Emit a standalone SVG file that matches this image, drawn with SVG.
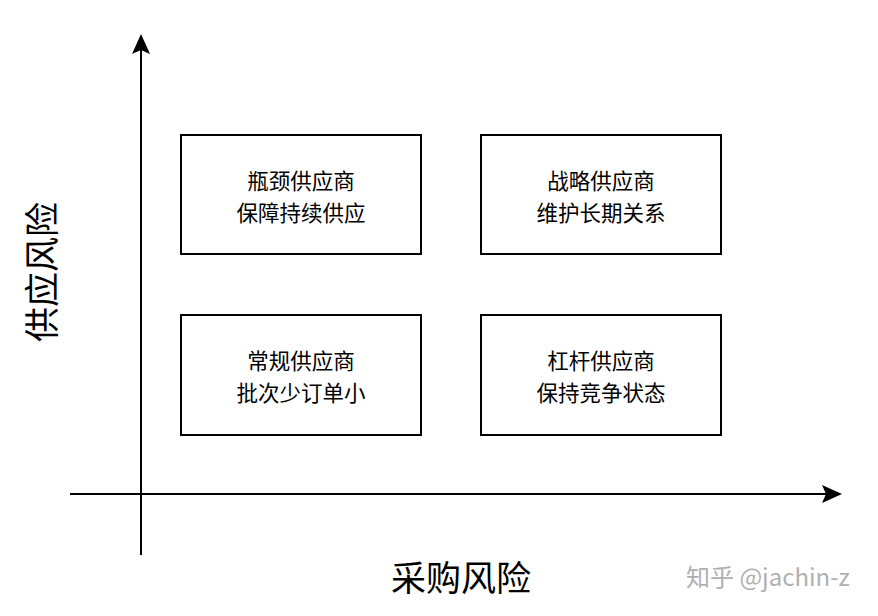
<svg xmlns="http://www.w3.org/2000/svg" width="878" height="616" viewBox="0 0 878 616">
<style>
.box{fill:#fff;stroke:#000;stroke-width:2}
.t{font-family:"Noto Sans CJK SC","Noto Sans",sans-serif;font-size:21.5px;fill:#000;text-anchor:middle}
.ax{font-family:"Noto Sans CJK SC","Noto Sans",sans-serif;font-size:35px;fill:#000;text-anchor:middle}
.ln{stroke:#000;stroke-width:2;fill:none}
</style>
<defs>
<marker id="ah" markerWidth="20" markerHeight="18" refX="18" refY="9" orient="auto" markerUnits="userSpaceOnUse" viewBox="0 0 20 18">
<path d="M0,0 L20,9 L0,18 L4,9 Z" fill="#000"/>
</marker>
</defs>
<rect width="878" height="616" fill="#fff"/>
<g id="connectors">
<path class="ln" d="M141,555 L141,36" marker-end="url(#ah)"/>
<path class="ln" d="M70,494 L840,494" marker-end="url(#ah)"/>
</g>
<g id="n1"><rect class="box" x="181" y="135" width="240" height="119"/>
<text class="t" x="301" y="189">瓶颈供应商</text><text class="t" x="301" y="221">保障持续供应</text></g>
<g id="n2"><rect class="box" x="481" y="135" width="240" height="119"/>
<text class="t" x="601" y="189">战略供应商</text><text class="t" x="601" y="221">维护长期关系</text></g>
<g id="n3"><rect class="box" x="181" y="315" width="240" height="120"/>
<text class="t" x="301" y="369">常规供应商</text><text class="t" x="301" y="401">批次少订单小</text></g>
<g id="n4"><rect class="box" x="481" y="315" width="240" height="120"/>
<text class="t" x="601" y="369">杠杆供应商</text><text class="t" x="601" y="401">保持竞争状态</text></g>
<g id="ylabel"><text class="ax" transform="translate(55,272) rotate(-90)">供应风险</text></g>
<g id="xlabel"><text class="ax" x="461" y="591">采购风险</text></g>
<text x="768" y="586" style="font-family:'Noto Sans CJK SC','Noto Sans',sans-serif;font-size:24px;fill:#b0b0b0;text-anchor:middle">知乎 @jachin-z</text>
</svg>
